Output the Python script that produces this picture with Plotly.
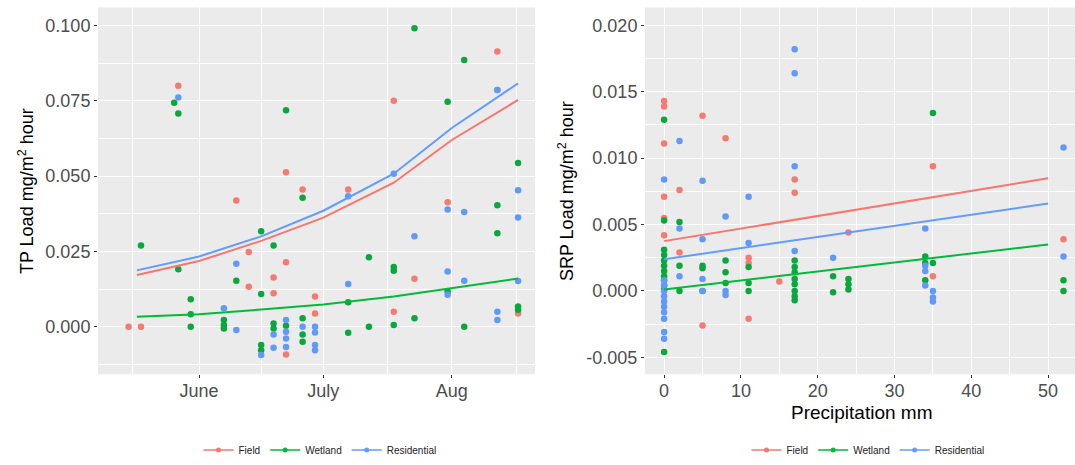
import plotly.graph_objects as go

# ---------------- data: left panel (TP load by date) ----------------
tp_field_dates = ["2019-05-15", "2019-05-18", "2019-05-27", "2019-06-10", "2019-06-13", "2019-06-13",
                  "2019-06-19", "2019-06-19", "2019-06-22", "2019-06-22", "2019-06-22", "2019-06-26",
                  "2019-06-29", "2019-06-29", "2019-07-07", "2019-07-18", "2019-07-18", "2019-07-23",
                  "2019-07-31", "2019-08-12", "2019-08-12", "2019-08-17"]
tp_field_vals = [0.000, 0.000, 0.0800, 0.0419, 0.0248, 0.0133,
                 0.0163, 0.0111, 0.0513, 0.0214, -0.0092, 0.0456,
                 0.0100, 0.0044, 0.0456, 0.0750, 0.0050, 0.0159,
                 0.0413, 0.0914, 0.0786, 0.0044]

tp_wetland_dates = ["2019-05-18", "2019-05-26", "2019-05-27", "2019-05-27", "2019-05-30", "2019-05-30",
                    "2019-05-30", "2019-06-07", "2019-06-07", "2019-06-07", "2019-06-10", "2019-06-16",
                    "2019-06-16", "2019-06-16", "2019-06-16", "2019-06-19", "2019-06-19", "2019-06-19",
                    "2019-06-22", "2019-06-22", "2019-06-26", "2019-06-26", "2019-06-26", "2019-06-26",
                    "2019-07-07", "2019-07-07", "2019-07-12", "2019-07-12", "2019-07-18", "2019-07-18",
                    "2019-07-18", "2019-07-23", "2019-07-23", "2019-07-31", "2019-07-31", "2019-08-04",
                    "2019-08-04", "2019-08-12", "2019-08-12", "2019-08-17", "2019-08-17", "2019-08-17"]
tp_wetland_vals = [0.0270, 0.0744, 0.0708, 0.0191, 0.0091, 0.0041,
                   0.0000, 0.0022, 0.0006, -0.0006, 0.0153, 0.0317,
                   0.0109, -0.0061, -0.0078, 0.0270, 0.0011, -0.0006,
                   0.0719, 0.0003, 0.0428, 0.0028, -0.0026, -0.0050,
                   0.0081, -0.0020, 0.0231, 0.0000, 0.0198, 0.0186,
                   0.0006, 0.0991, 0.0028, 0.0747, 0.0117, 0.0886,
                   0.0000, 0.0403, 0.0310, 0.0544, 0.0067, 0.0056]

tp_resid_dates = ["2019-05-27", "2019-06-07", "2019-06-10", "2019-06-10", "2019-06-16", "2019-06-19",
                  "2019-06-19", "2019-06-22", "2019-06-22", "2019-06-22", "2019-06-22", "2019-06-26",
                  "2019-06-29", "2019-06-29", "2019-06-29", "2019-06-29", "2019-07-07", "2019-07-07",
                  "2019-07-18", "2019-07-23", "2019-07-31", "2019-07-31", "2019-07-31", "2019-08-04",
                  "2019-08-04", "2019-08-12", "2019-08-12", "2019-08-12", "2019-08-17", "2019-08-17",
                  "2019-08-17"]
tp_resid_vals = [0.0761, 0.0061, 0.0209, -0.0011, -0.0094, -0.0026,
                 -0.0070, 0.0022, -0.0017, -0.0039, -0.0067, 0.0000,
                 0.0000, -0.0019, -0.0061, -0.0078, 0.0433, 0.0142,
                 0.0508, 0.0300, 0.0389, 0.0183, 0.0106, 0.0381,
                 0.0153, 0.0786, 0.0050, 0.0022, 0.0453, 0.0363,
                 0.0152]

# smoothed trend lines
tp_fit_dates = ["2019-05-17", "2019-06-01", "2019-06-16", "2019-07-01", "2019-07-18", "2019-08-01", "2019-08-17"]
tp_fit_field = [0.0172, 0.0218, 0.0285, 0.0362, 0.0478, 0.0620, 0.0753]
tp_fit_wetland = [0.0033, 0.0041, 0.0057, 0.0074, 0.0100, 0.0128, 0.0160]
tp_fit_resid = [0.0187, 0.0233, 0.0300, 0.0385, 0.0508, 0.0660, 0.0808]

# ---------------- data: right panel (SRP load by precipitation) ----------------
srp_field_precip = [0, 0, 0, 0, 0, 0, 2, 2, 5, 5, 8, 11, 11, 11, 15, 17, 17, 24, 35, 35, 52]
srp_field_vals = [0.0143, 0.0139, 0.0111, 0.0071, 0.0055, 0.0042, 0.0076, 0.0029, 0.0132, -0.0026,
                  0.0115, 0.0025, 0.0021, -0.0021, 0.0007, 0.0084, 0.0074, 0.0044, 0.0094, 0.0011, 0.0039]

srp_wetland_precip = [0, 0, 0, 0, 0, 0, 0, 0, 0, 0, 0, 0,
                      2, 2, 2, 5, 5, 5, 8, 8, 8, 11, 11, 11,
                      17, 17, 17, 17, 17, 17, 17, 17,
                      22, 22, 24, 24, 24, 34, 34, 34, 35, 35, 52, 52]
srp_wetland_vals = [0.0129, 0.0053, 0.0031, 0.0027, 0.0023, 0.0019, 0.0015, 0.0011, 0.0008, 0.0004, 0.0001, -0.0046,
                    0.0052, 0.0019, 0.0000, 0.0019, 0.0017, 0.0000, 0.0023, 0.0014, 0.0006, 0.0018, 0.0006, 0.0000,
                    0.0023, 0.0018, 0.0014, 0.0009, 0.0005, 0.0000, -0.0004, -0.0007,
                    0.0011, -0.0001, 0.0009, 0.0005, 0.0001, 0.0026, 0.0021, 0.0008, 0.0134, 0.0021, 0.0008, 0.0000]

srp_resid_precip = [0, 0, 0, 0, 0, 0, 0, 0, 0, 0, 0,
                    2, 2, 2, 5, 5, 5, 5, 8, 8, 8, 11, 11,
                    17, 17, 17, 17, 22, 34, 34, 34, 34, 35, 35, 35, 52, 52]
srp_resid_vals = [0.0084, 0.0008, 0.0004, 0.0000, -0.0004, -0.0008, -0.0012, -0.0016, -0.0021, -0.0031, -0.0036,
                  0.0113, 0.0047, 0.0011, 0.0083, 0.0039, 0.0009, 0.0000, 0.0056, 0.0000, -0.0003, 0.0071, 0.0036,
                  0.0182, 0.0164, 0.0094, 0.0030, 0.0025, 0.0047, 0.0019, 0.0015, 0.0004, 0.0000, -0.0005, -0.0008,
                  0.0108, 0.0026]

srp_fit_precip = [0, 50]
srp_fit_field = [0.00375, 0.00848]
srp_fit_wetland = [0.0001, 0.0035]
srp_fit_resid = [0.00238, 0.00658]

group_names = ["Field", "Wetland", "Residential"]
group_colors = ["#F8766D", "#00BA38", "#619CFF"]
point_colors = ["#F47A72", "#09A83C", "#6199F8"]

# tick labels
tp_xtick_vals = ["2019-06-01", "2019-07-01", "2019-08-01"]
tp_xtick_text = ["June", "July", "Aug"]
tp_ytick_vals = [0.0, 0.025, 0.05, 0.075, 0.1]
tp_ytick_text = ["0.000", "0.025", "0.050", "0.075", "0.100"]
srp_xtick_vals = [0, 10, 20, 30, 40, 50]
srp_ytick_vals = [-0.005, 0.0, 0.005, 0.01, 0.015, 0.02]
srp_ytick_text = ["-0.005", "0.000", "0.005", "0.010", "0.015", "0.020"]

FONT = "Liberation Sans, Arial, sans-serif"

fig = go.Figure()

tp_points = [(tp_field_dates, tp_field_vals), (tp_wetland_dates, tp_wetland_vals), (tp_resid_dates, tp_resid_vals)]
tp_fits = [tp_fit_field, tp_fit_wetland, tp_fit_resid]
srp_points = [(srp_field_precip, srp_field_vals), (srp_wetland_precip, srp_wetland_vals),
              (srp_resid_precip, srp_resid_vals)]
srp_fits = [srp_fit_field, srp_fit_wetland, srp_fit_resid]

# points
for (xs, ys), col, name in zip(tp_points, point_colors, group_names):
    fig.add_trace(go.Scatter(x=xs, y=ys, mode="markers", marker=dict(color=col, size=6.5),
                             xaxis="x", yaxis="y", showlegend=False, name=name))
for (xs, ys), col, name in zip(srp_points, point_colors, group_names):
    fig.add_trace(go.Scatter(x=xs, y=ys, mode="markers", marker=dict(color=col, size=6.5),
                             xaxis="x2", yaxis="y2", showlegend=False, name=name))
# lines
for ys, col, name in zip(tp_fits, group_colors, group_names):
    fig.add_trace(go.Scatter(x=tp_fit_dates, y=ys, mode="lines", line=dict(color=col, width=2),
                             xaxis="x", yaxis="y", showlegend=False, name=name))
for ys, col, name in zip(srp_fits, group_colors, group_names):
    fig.add_trace(go.Scatter(x=srp_fit_precip, y=ys, mode="lines", line=dict(color=col, width=2),
                             xaxis="x2", yaxis="y2", showlegend=False, name=name))
# legend entries
for col, name in zip(group_colors, group_names):
    fig.add_trace(go.Scatter(x=[None], y=[None], mode="lines+markers", name=name,
                             line=dict(color=col, width=1.5), marker=dict(color=col, size=5),
                             xaxis="x2", yaxis="y2", legend="legend"))
    fig.add_trace(go.Scatter(x=[None], y=[None], mode="lines+markers", name=name,
                             line=dict(color=col, width=1.5), marker=dict(color=col, size=5),
                             xaxis="x2", yaxis="y2", legend="legend2"))

W, H = 1075, 465
ydom = [1 - 380 / H, 1 - 7.6 / H]

axis_common = dict(showgrid=True, gridcolor="white", gridwidth=1.3, zeroline=False,
                   ticks="outside", ticklen=3, tickwidth=1, tickcolor="#333333",
                   tickfont=dict(family=FONT, size=18, color="#4D4D4D"),
                   showline=False)
minor_grid = dict(showgrid=True, gridcolor="white", gridwidth=0.6, ticks="")

fig.update_layout(
    width=W, height=H,
    margin=dict(l=0, r=0, t=0, b=0),
    paper_bgcolor="white",
    plot_bgcolor="#EBEBEB",
    font=dict(family=FONT),
    xaxis=dict(domain=[98 / W, 535 / W], type="date",
               range=["2019-05-07 15:00", "2019-08-21 02:00"],
               tickmode="array", tickvals=tp_xtick_vals, ticktext=tp_xtick_text,
               minor=dict(tickvals=["2019-05-16", "2019-06-16", "2019-07-16 12:00", "2019-08-16 12:00"], **minor_grid),
               anchor="y", ticklabelstandoff=-3, **axis_common),
    yaxis=dict(domain=ydom, range=[-0.0158, 0.1060],
               tickmode="array", tickvals=tp_ytick_vals, ticktext=tp_ytick_text,
               minor=dict(tickvals=[-0.0125, 0.0125, 0.0375, 0.0625, 0.0875], **minor_grid),
               anchor="x", **axis_common),
    xaxis2=dict(domain=[645 / W, 1.0], range=[-2.49, 53.5],
                tickmode="array", tickvals=srp_xtick_vals,
                minor=dict(tickvals=[5, 15, 25, 35, 45], **minor_grid),
                anchor="y2", ticklabelstandoff=-3, **axis_common),
    yaxis2=dict(domain=ydom, range=[-0.00628, 0.02135],
                tickmode="array", tickvals=srp_ytick_vals, ticktext=srp_ytick_text,
                minor=dict(tickvals=[-0.0025, 0.0025, 0.0075, 0.0125, 0.0175], **minor_grid),
                anchor="x2", **axis_common),
    legend=dict(orientation="h", x=320 / W, xanchor="center", y=1 - 457 / H, yanchor="middle",
                font=dict(family=FONT, size=10, color="#222222"), itemwidth=30,
                bgcolor="rgba(0,0,0,0)"),
    legend2=dict(orientation="h", x=868 / W, xanchor="center", y=1 - 457 / H, yanchor="middle",
                 font=dict(family=FONT, size=10, color="#222222"), itemwidth=30,
                 bgcolor="rgba(0,0,0,0)"),
    annotations=[
        dict(text="TP Load mg/m<sup>2</sup> hour", x=26 / W, y=1 - 194 / H, xref="paper", yref="paper",
             textangle=-90, showarrow=False, xanchor="center", yanchor="middle",
             font=dict(family=FONT, size=18, color="black")),
        dict(text="SRP Load mg/m<sup>2</sup> hour", x=566 / W, y=1 - 194 / H, xref="paper", yref="paper",
             textangle=-90, showarrow=False, xanchor="center", yanchor="middle",
             font=dict(family=FONT, size=18, color="black")),
        dict(text="Precipitation mm", x=862 / W, y=1 - 419 / H, xref="paper", yref="paper",
             showarrow=False, xanchor="center", yanchor="middle",
             font=dict(family=FONT, size=19, color="black")),
    ],
)

fig.write_html("out.html")
